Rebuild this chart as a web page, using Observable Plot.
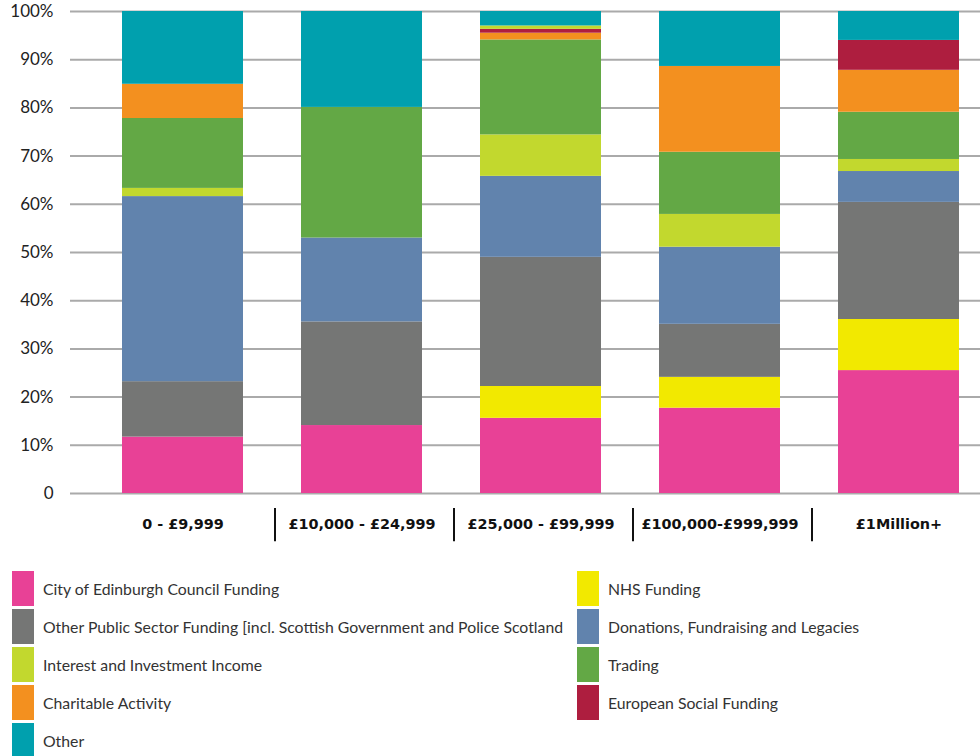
<!DOCTYPE html>
<html>
<head>
<meta charset="utf-8">
<script src="https://cdn.jsdelivr.net/npm/d3@7"></script>
<script src="https://cdn.jsdelivr.net/npm/@observablehq/plot@0.6"></script>
<style>
  html, body { margin: 0; padding: 0; background: #fff; }
  body { width: 980px; height: 756px; overflow: hidden; font-family: Lato, "Open Sans", sans-serif; }
  #chart svg { display: block; }
  #legend { display: grid; grid-template-columns: 565px 400px; row-gap: 3px; padding-left: 12px; margin-top: 15px; }
  .item { display: flex; align-items: center; height: 35px; }
  .sw { width: 22px; height: 35px; flex: none; margin-right: 9px; }
  .lab { font-size: 15.8px; color: #333; white-space: nowrap; }
</style>
</head>
<body>
<div id="chart"></div>
<div id="legend"></div>
<script>
// Income bands (x categories)
const bands = ["0 - £9,999", "£10,000 - £24,999", "£25,000 - £99,999", "£100,000-£999,999", "£1Million+"];

// Series names (legend order, stacking order bottom → top)
const seriesNames = [
  "City of Edinburgh Council Funding",
  "NHS Funding",
  "Other Public Sector Funding [incl. Scottish Government and Police Scotland",
  "Donations, Fundraising and Legacies",
  "Interest and Investment Income",
  "Trading",
  "Charitable Activity",
  "European Social Funding",
  "Other"
];
const seriesColors = ["#e84196", "#f2e900", "#757675", "#6183ad", "#c2d82e", "#63a845", "#f3901f", "#ae1e3f", "#00a0ae"];

// Percentage share per band
const cityCouncil   = [11.7, 14.1, 15.6, 17.7, 25.5];
const nhs           = [0,    0,    6.6,  6.4,  10.6];
const otherPublic   = [11.5, 21.5, 26.8, 11.0, 24.3];
const donations     = [38.4, 17.4, 16.8, 16.0, 6.4];
const interest      = [1.7,  0,    8.6,  6.8,  2.5];
const trading       = [14.5, 27.1, 19.7, 12.9, 9.8];
const charitable    = [7.1,  0,    1.4,  17.8, 8.7];
const european      = [0,    0,    0.8,  0,    6.2];
const interestExtra = [0,    0,    0.7,  0,    0];   // thin lime sliver near top of 3rd bar
const other         = [15.1, 19.9, 3.0,  11.4, 6.0];

const yTicks = [0, 10, 20, 30, 40, 50, 60, 70, 80, 90, 100];

const stackSeries = [
  {name: seriesNames[0], color: seriesColors[0], values: cityCouncil},
  {name: seriesNames[1], color: seriesColors[1], values: nhs},
  {name: seriesNames[2], color: seriesColors[2], values: otherPublic},
  {name: seriesNames[3], color: seriesColors[3], values: donations},
  {name: seriesNames[4], color: seriesColors[4], values: interest},
  {name: seriesNames[5], color: seriesColors[5], values: trading},
  {name: seriesNames[6], color: seriesColors[6], values: charitable},
  {name: seriesNames[7], color: seriesColors[7], values: european},
  {name: seriesNames[4] + " (2)", color: seriesColors[4], values: interestExtra},
  {name: seriesNames[8], color: seriesColors[8], values: other}
];

const table = [];
stackSeries.forEach(s => bands.forEach((b, i) => table.push({band: b, series: s.name, color: s.color, value: s.values[i]})));

const chart = Plot.plot({
  width: 980,
  height: 556,
  marginTop: 11,
  marginBottom: 63,
  marginLeft: 70,
  marginRight: 0,
  style: {fontFamily: "Lato, sans-serif", color: "#222", background: "#fff"},
  x: {domain: bands, range: [91, 989], paddingInner: 0.326, paddingOuter: 0.163, label: null},
  y: {domain: [0, 100], label: null},
  marks: [
    Plot.ruleY(yTicks, {stroke: "#aaaaaa", strokeWidth: 2}),
    Plot.barY(table, {x: "band", y: "value", z: "series", fill: "color", order: null}),
    Plot.axisY({ticks: yTicks, tickSize: 0, tickPadding: 17, fontSize: 17, tickFormat: d => d === 0 ? "0" : d + "%"}),
    Plot.axisX({tickSize: 0, tickPadding: 25, fontSize: 14.4, fontWeight: "bold", fontFamily: "DejaVu Sans", fill: "#111"}),
    Plot.ruleX(bands.slice(1), {x: d => d, y1: -3.1, y2: -10, dx: -87, stroke: "#111", strokeWidth: 2})
  ]
});
document.getElementById("chart").append(chart);

const legend = document.getElementById("legend");
seriesNames.forEach((n, i) => {
  const item = document.createElement("div");
  item.className = "item";
  const sw = document.createElement("div");
  sw.className = "sw";
  sw.style.background = seriesColors[i];
  const lab = document.createElement("span");
  lab.className = "lab";
  lab.textContent = n;
  item.append(sw, lab);
  legend.append(item);
});
</script>
</body>
</html>
